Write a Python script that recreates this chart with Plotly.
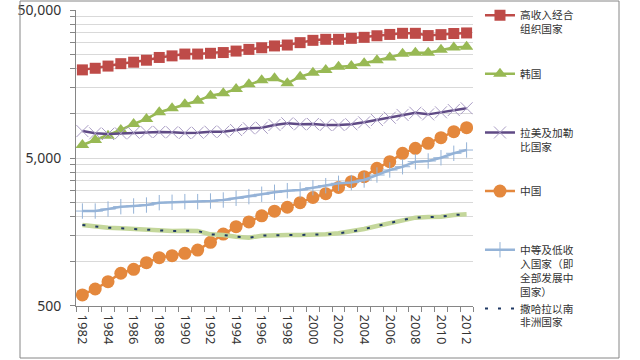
import plotly.graph_objects as go
import math

years = [1982, 1983, 1984, 1985, 1986, 1987, 1988, 1989, 1990, 1991, 1992,
         1993, 1994, 1995, 1996, 1997, 1998, 1999, 2000, 2001, 2002,
         2003, 2004, 2005, 2006, 2007, 2008, 2009, 2010, 2011, 2012]

high_income_oecd = [19700, 20200, 20900, 21700, 22200, 22900, 23900, 24500, 25200, 25200, 25500,
                    25800, 26400, 27100, 27800, 28600, 29000, 30100, 31200, 31700, 31700,
                    32200, 32700, 33500, 34200, 34800, 34800, 33600, 34100, 34700, 35000]
korea = [6120, 6620, 7080, 7730, 8490, 9180, 10190, 10840, 11530, 12190, 13180,
         13680, 14620, 15740, 16750, 17290, 15990, 17720, 18840, 19670, 20700,
         20900, 21800, 22900, 23900, 25300, 25700, 25700, 26900, 27900, 28200]
latam = [7600, 7340, 7260, 7340, 7410, 7500, 7500, 7460, 7380, 7410, 7530,
         7530, 7730, 7940, 8010, 8360, 8580, 8450, 8490, 8360, 8360,
         8450, 8710, 9030, 9360, 9770, 10110, 9860, 10180, 10550, 10840]
china = [594, 651, 730, 832, 885, 981, 1060, 1094, 1135, 1194, 1346,
         1530, 1717, 1848, 2033, 2187, 2323, 2495, 2705, 2870, 3160,
         3460, 3740, 4260, 4720, 5380, 5810, 6280, 6860, 7530, 8010]
developing = [2190, 2190, 2260, 2344, 2370, 2405, 2495, 2510, 2535, 2535, 2560,
              2600, 2672, 2740, 2844, 2934, 3007, 3040, 3150, 3250, 3373,
              3410, 3550, 3837, 4149, 4365, 4720, 4773, 5020, 5380, 5660]
ssa = [1762, 1717, 1690, 1674, 1656, 1622, 1605, 1605, 1612, 1605, 1524,
       1510, 1470, 1446, 1493, 1510, 1510, 1510, 1510, 1524, 1549,
       1588, 1656, 1737, 1812, 1906, 1977, 1997, 2007, 2060, 2084]

names = ["高收入经合<br>组织国家", "韩国", "拉美及加勒<br>比国家", "中国",
         "中等及低收<br>入国家（即<br>全部发展中<br>国家）", "撒哈拉以南<br>非洲国家"]

y_major = [500, 5000, 50000]
y_gridvals = [500, 1000, 1500, 2000, 2500, 3000, 3500, 4000, 4500,
              5000, 10000, 15000, 20000, 25000, 30000, 35000, 40000, 45000, 50000]
x_labels = [1982, 1984, 1986, 1988, 1990, 1992, 1994, 1996, 1998, 2000,
            2002, 2004, 2006, 2008, 2010, 2012]


def pad(name, lines=4):
    n = name.count("<br>") + 1
    return name + "<br>\u00a0" * max(0, lines - n)


fig = go.Figure()

fig.add_trace(go.Scatter(x=years, y=high_income_oecd, name=pad(names[0]), mode="lines+markers",
                         line=dict(color="#BE4B48", width=2.5),
                         marker=dict(symbol="square", size=11, color="#BE4B48")))
fig.add_trace(go.Scatter(x=years, y=korea, name=pad(names[1]), mode="lines+markers",
                         line=dict(color="#98B954", width=2.5),
                         marker=dict(symbol="triangle-up", size=12, color="#98B954")))
fig.add_trace(go.Scatter(x=years, y=latam, name=pad(names[2]), mode="lines+markers",
                         line=dict(color="#5F4A85", width=2.5),
                         marker=dict(symbol="x-thin", size=12,
                                     line=dict(color="#A99CC4", width=1))))
fig.add_trace(go.Scatter(x=years, y=china, name=pad(names[3]), mode="lines+markers",
                         line=dict(color="#E4883D", width=2.5),
                         marker=dict(symbol="circle", size=13, color="#E4883D")))
fig.add_trace(go.Scatter(x=years, y=developing, name=pad(names[4]), mode="lines+markers",
                         line=dict(color="#95B3D7", width=2.5),
                         marker=dict(symbol="cross-thin", size=11,
                                     line=dict(color="#95B3D7", width=1))))
fig.add_trace(go.Scatter(x=years, y=ssa, name=names[5], mode="lines", showlegend=False,
                         legendgroup="ssa", line=dict(color="#C4D79B", width=4.5)))
fig.add_trace(go.Scatter(x=years, y=ssa, name=names[5], mode="lines", legendgroup="ssa",
                         line=dict(color="#1F3864", width=2, dash="3px,10px")))

ticktext = [f"{v:,}" if v in y_major else "" for v in y_gridvals]

fig.update_layout(
    width=640, height=360, autosize=False,
    margin=dict(l=76, r=167, t=10, b=54),
    paper_bgcolor="white", plot_bgcolor="white",
    font=dict(family="Noto Sans, Noto Sans CJK SC", color="#333333"),
    showlegend=True,
    legend=dict(x=1.0176, xanchor="left", y=0.462, yanchor="middle", valign="top",
                font=dict(size=10.7, family="Noto Sans CJK SC", color="#333333"),
                tracegroupgap=0, bgcolor="rgba(0,0,0,0)", itemwidth=30, maxheight=356),
    xaxis=dict(type="linear", range=[1981.5, 2012.5], automargin=False,
               tickmode="array", tickvals=x_labels, ticktext=[str(v) for v in x_labels],
               tickangle=90, ticks="", showgrid=False, zeroline=False,
               showline=True, linecolor="#868686", linewidth=1,
               tickfont=dict(size=13, color="#333333"), ticklabelstandoff=5,
               ticklabeloverflow="allow",
               minor=dict(tickmode="array", tickvals=[v - 0.5 for v in years] + [years[-1] + 0.5],
                          ticks="outside", ticklen=5, tickcolor="#868686", showgrid=False)),
    yaxis=dict(type="log", range=[math.log10(500) - 0.0002, math.log10(50000) + 0.0002],
               automargin=False, ticklabeloverflow="allow",
               tickmode="array", tickvals=y_gridvals, ticktext=ticktext,
               ticks="outside", ticklen=5, tickcolor="#868686",
               showgrid=True, gridcolor="#D9D9D9", gridwidth=1, zeroline=False,
               showline=True, linecolor="#868686", linewidth=1,
               tickfont=dict(size=14, color="#333333"), ticklabelstandoff=6),
    shapes=[dict(type="rect", xref="paper", yref="paper",
                 x0=(20 - 76) / 397, x1=(619 - 76) / 397,
                 y0=(306 - 358) / 296, y1=(306 - 1) / 296,
                 line=dict(color="#868686", width=1), fillcolor="rgba(0,0,0,0)", layer="above")],
)

fig.write_html("out.html", config={"displayModeBar": False},
               post_script="document.body.style.margin='0px';")
